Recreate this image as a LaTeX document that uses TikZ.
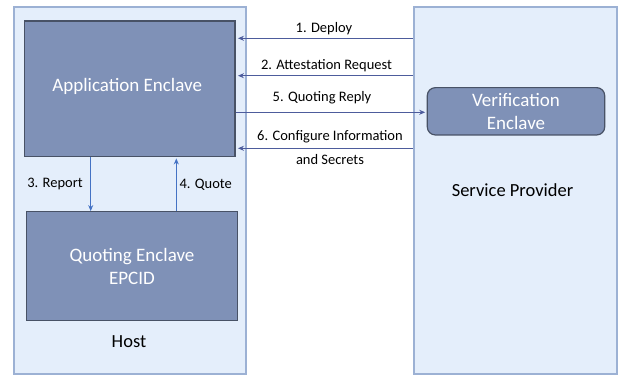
\documentclass[tikz,border=0pt]{standalone}
\usepackage{fontspec}
\setmainfont{Carlito}
\usetikzlibrary{arrows.meta}

\definecolor{zonefill}{HTML}{E4EEFB}
\definecolor{zoneline}{HTML}{9CB1D4}
\definecolor{enclfill}{HTML}{7F91B7}
\definecolor{enclline}{HTML}{485266}
\definecolor{msgline}{HTML}{4D5C9C}
\definecolor{hostline}{HTML}{4472C4}

\tikzset{
  zone/.style={draw=zoneline, fill=zonefill, line width=2.5pt, inner sep=0pt},
  enclave/.style={draw=enclline, fill=enclfill, line width=1.2pt, inner sep=0pt,
    text=white, align=center, font=\fontsize{19}{23}\selectfont},
  zonetext/.style={font=\fontsize{18.5}{22}\selectfont, text=black},
  msgtext/.style={font=\fontsize{14.5}{24}\selectfont, text=black, align=center, inner sep=0pt},
  msg/.style={draw=msgline, line width=0.9pt, -{Stealth[length=6pt,width=5pt]}},
  hostmsg/.style={draw=hostline, line width=0.9pt, -{Stealth[length=6pt,width=5pt]}},
}

\begin{document}
\begin{tikzpicture}[x=1pt, y=-1pt]
  \useasboundingbox (0,0) rectangle (620,377);

  % the two machines
  \node[zone, minimum width=232pt, minimum height=367pt] (host) at (130,190.5) {};
  \node[zone, minimum width=203pt, minimum height=367pt] (sp) at (515.5,190.5) {};
  \node[zonetext] (hostlbl) at (129,342) {Host};
  \node[zonetext] (splbl) at (512.5,190) {Service Provider};

  % enclaves
  \node[enclave, minimum width=210.7pt, minimum height=135.3pt] (app) at (129.7,88.7) {};
  \node[enclave, draw=none, fill=none] (apptxt) at (127.2,86.7) {Application Enclave};
  \node[enclave, minimum width=210.6pt, minimum height=109pt] (qe) at (132,266.2) {Quoting Enclave\\EPCID};
  \node[enclave, rounded corners=8pt, minimum width=177.4pt, minimum height=47.3pt] (ve) at (516,111.3) {Verification\\Enclave};

  % message rows
  \coordinate (r1) at (0,38.3);
  \coordinate (r2) at (0,75.7);
  \coordinate (r5) at (0,112.3);
  \coordinate (r6) at (0,148.3);
  \coordinate (cr) at (90.7,0);
  \coordinate (cq) at (176.3,0);

  \draw[msg, shorten >=2.3pt] (sp.west |- r1) -- (app.east |- r1);
  \draw[msg, shorten >=2.3pt] (sp.west |- r2) -- (app.east |- r2);
  \draw[msg, shorten >=1.5pt] (app.east |- r5) -- (ve.west |- r5);
  \draw[msg, shorten >=2.3pt] (sp.west |- r6) -- (app.east |- r6);

  \node[msgtext] (m1) at (324,28.3) {1. Deploy};
  \node[msgtext] (m2) at (326.5,65.7) {2. Attestation Request};
  \node[msgtext] (m5) at (322,97.7) {5. Quoting Reply};
  \node[msgtext] (m6) at (330,148) {6. Configure Information\\and Secrets};

  % local attestation inside the host
  \draw[hostmsg] (app.south -| cr) -- (qe.north -| cr);
  \draw[hostmsg, shorten >=1.5pt] (qe.north -| cq) -- (app.south -| cq);
  \node[msgtext] (m3) at (55,184.3) {3. Report};
  \node[msgtext] (m4) at (205.7,184.3) {4. Quote};
\end{tikzpicture}
\end{document}
